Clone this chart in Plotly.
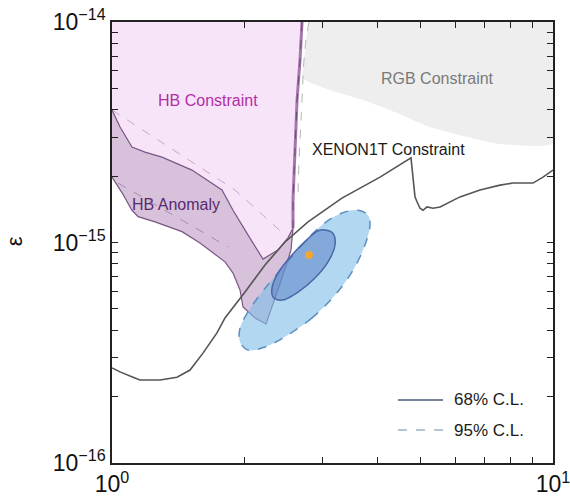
import plotly.graph_objects as go

# ---- axis ticks -------------------------------------------------------------
mass_ticks = [1, 10]
mass_tick_text = ["10<sup>0</sup>", "10<sup>1</sup>"]
mass_minor_ticks = [2, 3, 4, 5, 6, 7, 8, 9]
eps_ticks = [1e-16, 1e-15, 1e-14]
eps_tick_text = ["10<sup>\u221216</sup>", "10<sup>\u221215</sup>", "10<sup>\u221214</sup>"]
eps_minor_ticks = [2e-16, 3e-16, 4e-16, 5e-16, 6e-16, 7e-16, 8e-16, 9e-16,
                   2e-15, 3e-15, 4e-15, 5e-15, 6e-15, 7e-15, 8e-15, 9e-15]

# ---- XENON1T upper limit ------------------------------------------------------
xenon_m = [1.00, 1.043, 1.116, 1.157, 1.285, 1.404, 1.503, 1.608, 1.730, 1.804,
           2.003, 2.223, 2.468, 2.783, 3.322, 4.053, 4.764, 4.813, 4.865, 4.916,
           4.994, 5.073, 5.180, 5.345, 5.544, 6.153, 6.831, 7.585, 8.117, 9.007,
           9.491, 10.0]
xenon_eps = [2.70e-16, 2.59e-16, 2.45e-16, 2.38e-16, 2.38e-16, 2.45e-16, 2.64e-16, 3.15e-16, 3.89e-16, 4.55e-16,
             5.97e-16, 7.91e-16, 1.005e-15, 1.24e-15, 1.59e-15, 1.98e-15, 2.42e-15, 1.92e-15, 1.61e-15, 1.53e-15,
             1.43e-15, 1.40e-15, 1.45e-15, 1.43e-15, 1.45e-15, 1.61e-15, 1.73e-15, 1.82e-15, 1.86e-15, 1.86e-15,
             1.98e-15, 2.13e-15]

# ---- HB constraint (excluded region) -----------------------------------------
hb_m = [1.0, 2.697, 2.669, 2.628, 2.600, 2.573, 2.573, 2.506, 2.379, 2.200,
        2.024, 1.881, 1.776, 1.518, 1.298, 1.188, 1.110, 1.043, 1.0]
hb_eps = [1e-14, 1e-14, 6.73e-15, 4.43e-15, 2.63e-15, 1.56e-15, 1.16e-15, 1.05e-15, 9.25e-16, 8.41e-16,
          1.10e-15, 1.40e-15, 1.73e-15, 2.13e-15, 2.44e-15, 2.57e-15, 2.71e-15, 3.34e-15, 3.99e-15]
hb_edge_m = [2.697, 2.669, 2.628, 2.600, 2.573, 2.573]
hb_edge_eps = [1e-14, 6.73e-15, 4.43e-15, 2.63e-15, 1.56e-15, 1.16e-15]
hb_dash_m = [1.0, 1.900, 2.468]
hb_dash_eps = [3.99e-15, 1.73e-15, 1.08e-15]

# ---- HB anomaly band -----------------------------------------------------------
anom_m = [1.0, 1.043, 1.110, 1.188, 1.298, 1.518, 1.776, 1.881, 2.024, 2.200,
          2.379, 2.506, 2.573, 2.546, 2.442, 2.329, 2.235, 2.110, 1.982, 1.951,
          1.881, 1.804, 1.712, 1.583, 1.441, 1.252, 1.146, 1.110, 1.054, 1.0]
anom_eps = [3.99e-15, 3.34e-15, 2.71e-15, 2.57e-15, 2.44e-15, 2.13e-15, 1.73e-15, 1.40e-15, 1.10e-15, 8.41e-16,
            9.25e-16, 1.05e-15, 1.16e-15, 9.25e-16, 7.13e-16, 5.48e-16, 4.27e-16, 4.55e-16, 5.10e-16, 6.09e-16,
            7.27e-16, 8.17e-16, 8.87e-16, 9.95e-16, 1.12e-15, 1.24e-15, 1.31e-15, 1.40e-15, 1.68e-15, 1.98e-15]
anom_dash_m = [1.032, 1.833]
anom_dash_eps = [1.86e-15, 9.55e-16]

# ---- RGB constraint ------------------------------------------------------------
rgb_m = [2.797, 10.0, 10.0, 8.117, 7.31, 6.38, 5.26, 4.43, 3.71, 3.12, 2.711, 2.725, 2.754]
rgb_eps = [1e-14, 1e-14, 2.83e-15, 2.77e-15, 2.83e-15, 3.01e-15, 3.34e-15, 3.87e-15, 4.43e-15, 4.92e-15,
           5.57e-15, 6.73e-15, 8.29e-15]
rgb_edge_m = [2.797, 2.754, 2.725, 2.711, 2.683, 2.655, 2.641]
rgb_edge_eps = [1e-14, 8.29e-15, 6.73e-15, 5.57e-15, 3.59e-15, 2.37e-15, 1.56e-15]

# ---- fit contours --------------------------------------------------------------
ell95_m = [3.204, 2.842, 2.506, 2.223, 2.034, 1.951, 1.951, 2.034, 2.189, 2.429,
           2.697, 2.994, 3.323, 3.613, 3.806, 3.846, 3.747, 3.501, 3.204]
ell95_eps = [5.78e-16, 4.55e-16, 3.81e-16, 3.36e-16, 3.25e-16, 3.54e-16, 4.09e-16, 4.84e-16, 5.96e-16, 7.66e-16,
             9.74e-16, 1.20e-15, 1.36e-15, 1.40e-15, 1.33e-15, 1.20e-15, 9.74e-16, 7.35e-16, 5.78e-16]
ell68_m = [2.886, 2.641, 2.429, 2.318, 2.306, 2.379, 2.559, 2.768, 2.932, 3.041,
           3.171, 3.204, 3.089, 2.886]
ell68_eps = [6.90e-16, 5.96e-16, 5.48e-16, 5.66e-16, 6.22e-16, 7.27e-16, 8.78e-16, 1.03e-15, 1.13e-15, 1.14e-15,
             1.10e-15, 9.74e-16, 8.16e-16, 6.90e-16]
best_m = [2.797]
best_eps = [8.78e-16]

FONT = "Liberation Sans, Arial, Helvetica, sans-serif"

fig = go.Figure()

# HB constraint region
fig.add_trace(go.Scatter(x=hb_m, y=hb_eps, mode="lines", fill="toself",
                         fillcolor="#f8e4f8", line=dict(width=0), hoverinfo="skip"))
# RGB constraint region
fig.add_trace(go.Scatter(x=rgb_m, y=rgb_eps, mode="lines", fill="toself",
                         fillcolor="#eeeeee", line=dict(width=0, shape="spline", smoothing=0.6),
                         hoverinfo="skip"))
fig.add_trace(go.Scatter(x=rgb_edge_m, y=rgb_edge_eps, mode="lines",
                         line=dict(color="#b4b4b4", width=1, dash="dash", shape="spline"), hoverinfo="skip"))
# HB constraint dashed inner curve
fig.add_trace(go.Scatter(x=hb_dash_m, y=hb_dash_eps, mode="lines",
                         line=dict(color="rgba(150,120,160,0.55)", width=1, dash="dash"), hoverinfo="skip"))
# HB anomaly band
fig.add_trace(go.Scatter(x=anom_m, y=anom_eps, mode="lines", fill="toself",
                         fillcolor="rgba(205,178,210,0.8)",
                         line=dict(color="#7a5684", width=1.2), hoverinfo="skip"))
fig.add_trace(go.Scatter(x=anom_dash_m, y=anom_dash_eps, mode="lines",
                         line=dict(color="rgba(130,95,140,0.55)", width=1, dash="dash"), hoverinfo="skip"))
# HB constraint edge
fig.add_trace(go.Scatter(x=hb_edge_m, y=hb_edge_eps, mode="lines",
                         line=dict(color="#a577ac", width=3), hoverinfo="skip"))
fig.add_trace(go.Scatter(x=hb_edge_m, y=hb_edge_eps, mode="lines",
                         line=dict(color="#6e4a78", width=1, dash="dash"), hoverinfo="skip"))
# 95% and 68% C.L. contours
fig.add_trace(go.Scatter(x=ell95_m, y=ell95_eps, mode="lines", fill="toself",
                         fillcolor="rgba(125,190,230,0.6)",
                         line=dict(color="#5a8fc2", width=1.5, dash="dash", shape="spline", smoothing=1.0),
                         hoverinfo="skip"))
fig.add_trace(go.Scatter(x=ell68_m, y=ell68_eps, mode="lines", fill="toself",
                         fillcolor="rgba(75,110,190,0.45)",
                         line=dict(color="#4a67a6", width=1.5, shape="spline", smoothing=1.0),
                         hoverinfo="skip"))
# XENON1T limit
fig.add_trace(go.Scatter(x=xenon_m, y=xenon_eps, mode="lines",
                         line=dict(color="#555555", width=1.6), hoverinfo="skip"))
# best fit point
fig.add_trace(go.Scatter(x=best_m, y=best_eps, mode="markers",
                         marker=dict(color="#f0a535", size=8, line=dict(width=0)), hoverinfo="skip"))

axis_common = dict(type="log", tickmode="array", ticks="inside", ticklen=6, tickwidth=1.3,
                   tickcolor="#222222", showline=True, linecolor="#222222", linewidth=1.5,
                   mirror="allticks", showgrid=False, zeroline=False, layer="above traces",
                   ticklabeloverflow="allow", automargin=False,
                   tickfont=dict(size=23, family=FONT, color="#111111"))
minor_common = dict(tickmode="array", ticks="inside", ticklen=6, tickwidth=1.3,
                    tickcolor="#222222", showgrid=False)
fig.update_xaxes(range=[0, 1], tickvals=mass_ticks, ticktext=mass_tick_text,
                 minor=dict(tickvals=mass_minor_ticks, **minor_common), **axis_common)
fig.update_yaxes(range=[-16, -14], tickvals=eps_ticks, ticktext=eps_tick_text,
                 minor=dict(tickvals=eps_minor_ticks, **minor_common), **axis_common)

annotations = [
    dict(text="HB Constraint", x=0.2177, y=0.823, font=dict(size=16, color="#b02ea8")),
    dict(text="HB Anomaly", x=0.1451, y=0.587, font=dict(size=16, color="#5a2a6e")),
    dict(text="RGB Constraint", x=0.737, y=0.873, font=dict(size=16, color="#7a7a7a")),
    dict(text="XENON1T Constraint", x=0.626, y=0.710, font=dict(size=16, color="#1a1a1a")),
    dict(text="68% C.L.", x=0.771, y=0.1429, xanchor="left", font=dict(size=17, color="#1a1a1a")),
    dict(text="95% C.L.", x=0.771, y=0.0748, xanchor="left", font=dict(size=17, color="#1a1a1a")),
    dict(text="\u03b5", x=-0.222, y=0.503, textangle=-90, font=dict(size=22, color="#111111")),
]
for a in annotations:
    a.update(xref="paper", yref="paper", showarrow=False)
    a.setdefault("xanchor", "center")
    a["yanchor"] = "middle"
    a["font"]["family"] = FONT

shapes = [
    dict(type="line", xref="paper", yref="paper", x0=0.6485, x1=0.7506, y0=0.1429, y1=0.1429,
         line=dict(color="#4a5878", width=1.5)),
    dict(type="line", xref="paper", yref="paper", x0=0.6485, x1=0.7506, y0=0.0748, y1=0.0748,
         line=dict(color="#6a8ab4", width=1.2, dash="dash")),
]

fig.update_layout(width=570, height=498, margin=dict(l=112, r=17, t=22, b=35),
                  plot_bgcolor="white", paper_bgcolor="white", showlegend=False,
                  annotations=annotations, shapes=shapes,
                  font=dict(family=FONT, color="#111111"))

fig.write_html("out.html")
